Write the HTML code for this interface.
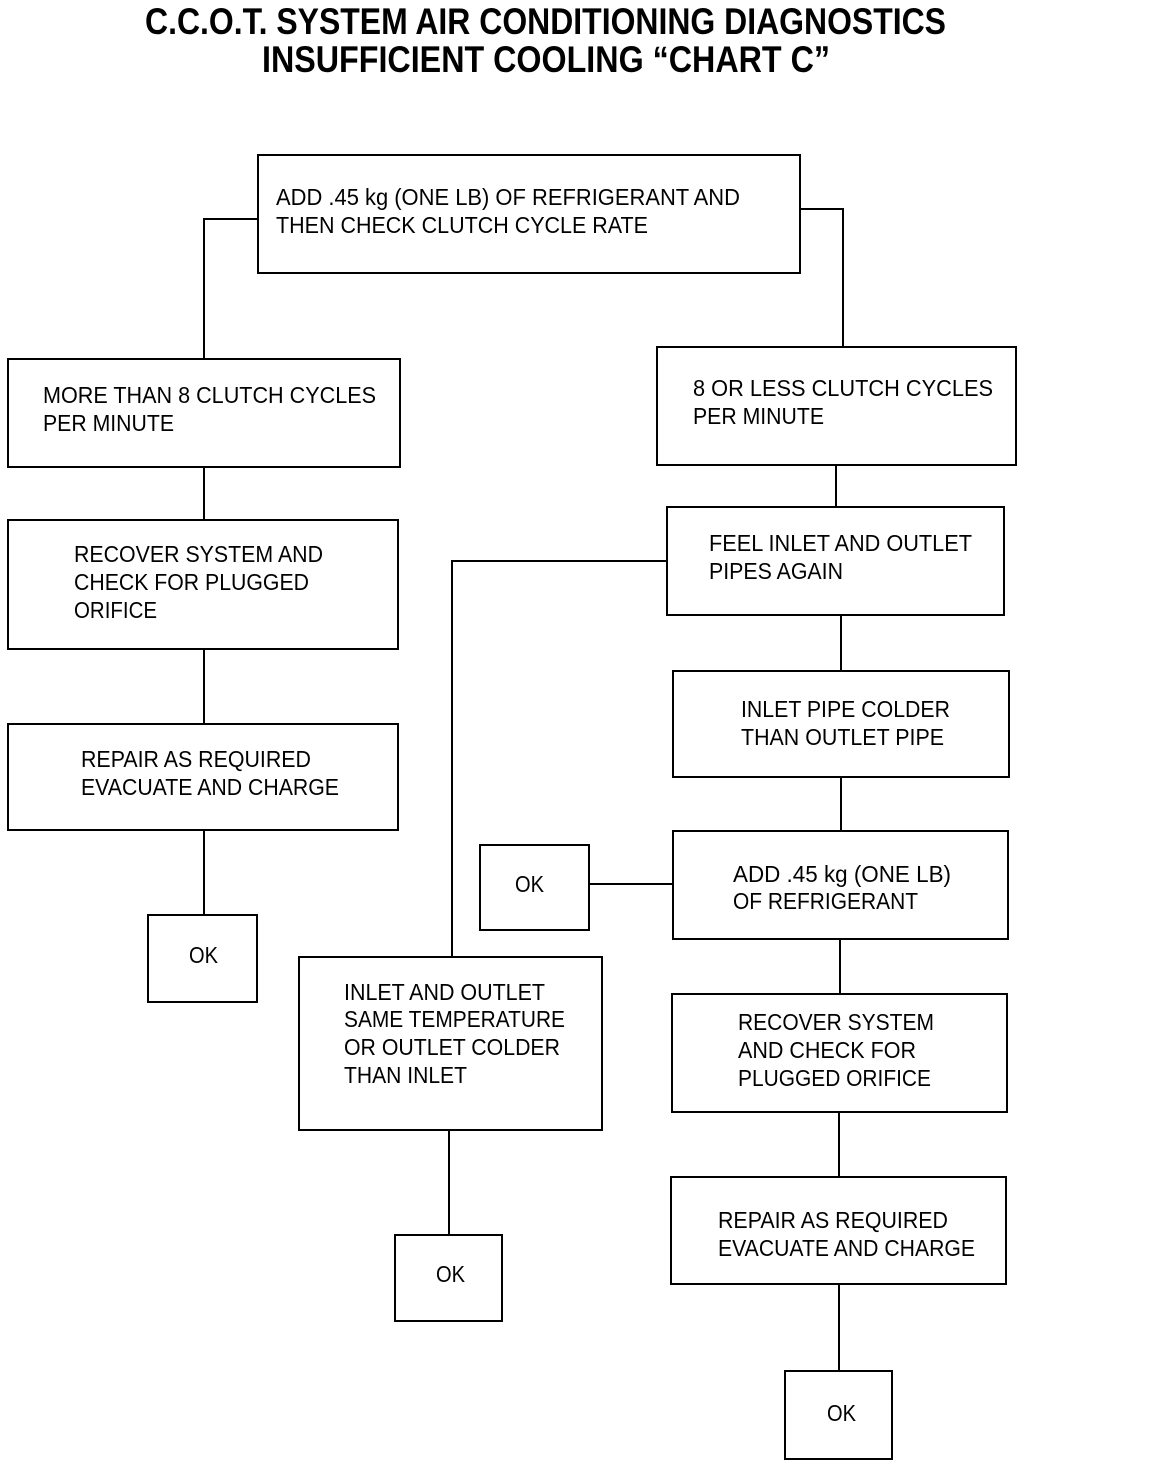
<!DOCTYPE html>
<html><head><meta charset="utf-8"><style>
html,body{margin:0;padding:0;background:#fff}
svg{display:block}
text{font-family:"Liberation Sans",Arial,sans-serif;fill:#000}
.t{font-size:23px}
.h{font-size:37px;font-weight:bold}
</style></head><body>
<svg width="1152" height="1466" viewBox="0 0 1152 1466" xmlns="http://www.w3.org/2000/svg">
<text class="h" x="145" y="34" textLength="801" lengthAdjust="spacingAndGlyphs">C.C.O.T. SYSTEM AIR CONDITIONING DIAGNOSTICS</text>
<text class="h" x="262" y="72" textLength="568" lengthAdjust="spacingAndGlyphs">INSUFFICIENT COOLING “CHART C”</text>
<g fill="none" stroke="#000" stroke-width="2">
<rect x="258" y="155" width="542" height="118"/>
<rect x="8" y="359" width="392" height="108"/>
<rect x="657" y="347" width="359" height="118"/>
<rect x="8" y="520" width="390" height="129"/>
<rect x="8" y="724" width="390" height="106"/>
<rect x="148" y="915" width="109" height="87"/>
<rect x="667" y="507" width="337" height="108"/>
<rect x="673" y="671" width="336" height="106"/>
<rect x="673" y="831" width="335" height="108"/>
<rect x="480" y="845" width="109" height="85"/>
<rect x="299" y="957" width="303" height="173"/>
<rect x="672" y="994" width="335" height="118"/>
<rect x="671" y="1177" width="335" height="107"/>
<rect x="395" y="1235" width="107" height="86"/>
<rect x="785" y="1371" width="107" height="88"/>
<polyline points="258,219 204,219 204,359"/>
<polyline points="800,209 843,209 843,347"/>
<line x1="204" y1="467" x2="204" y2="520"/>
<line x1="204" y1="649" x2="204" y2="724"/>
<line x1="204" y1="830" x2="204" y2="915"/>
<line x1="836" y1="465" x2="836" y2="507"/>
<polyline points="667,561 452,561 452,957"/>
<line x1="841" y1="615" x2="841" y2="671"/>
<line x1="841" y1="777" x2="841" y2="831"/>
<line x1="589" y1="884" x2="673" y2="884"/>
<line x1="840" y1="939" x2="840" y2="994"/>
<line x1="839" y1="1112" x2="839" y2="1177"/>
<line x1="449" y1="1130" x2="449" y2="1235"/>
<line x1="839" y1="1284" x2="839" y2="1371"/>
</g>
<g class="t">
<text class="t" x="276" y="205" textLength="464" lengthAdjust="spacingAndGlyphs">ADD .45 kg (ONE LB) OF REFRIGERANT AND</text>
<text class="t" x="276" y="233" textLength="372" lengthAdjust="spacingAndGlyphs">THEN CHECK CLUTCH CYCLE RATE</text>
<text class="t" x="43" y="403" textLength="333" lengthAdjust="spacingAndGlyphs">MORE THAN 8 CLUTCH CYCLES</text>
<text class="t" x="43" y="431" textLength="131" lengthAdjust="spacingAndGlyphs">PER MINUTE</text>
<text class="t" x="693" y="396" textLength="300" lengthAdjust="spacingAndGlyphs">8 OR LESS CLUTCH CYCLES</text>
<text class="t" x="693" y="424" textLength="131" lengthAdjust="spacingAndGlyphs">PER MINUTE</text>
<text class="t" x="74" y="562" textLength="249" lengthAdjust="spacingAndGlyphs">RECOVER SYSTEM AND</text>
<text class="t" x="74" y="590" textLength="235" lengthAdjust="spacingAndGlyphs">CHECK FOR PLUGGED</text>
<text class="t" x="74" y="618" textLength="83" lengthAdjust="spacingAndGlyphs">ORIFICE</text>
<text class="t" x="81" y="767" textLength="230" lengthAdjust="spacingAndGlyphs">REPAIR AS REQUIRED</text>
<text class="t" x="81" y="795" textLength="258" lengthAdjust="spacingAndGlyphs">EVACUATE AND CHARGE</text>
<text class="t" x="189" y="963" textLength="29" lengthAdjust="spacingAndGlyphs">OK</text>
<text class="t" x="709" y="551" textLength="263" lengthAdjust="spacingAndGlyphs">FEEL INLET AND OUTLET</text>
<text class="t" x="709" y="579" textLength="134" lengthAdjust="spacingAndGlyphs">PIPES AGAIN</text>
<text class="t" x="741" y="717" textLength="209" lengthAdjust="spacingAndGlyphs">INLET PIPE COLDER</text>
<text class="t" x="741" y="745" textLength="203" lengthAdjust="spacingAndGlyphs">THAN OUTLET PIPE</text>
<text class="t" x="733" y="882" textLength="218" lengthAdjust="spacingAndGlyphs">ADD .45 kg (ONE LB)</text>
<text class="t" x="733" y="909" textLength="185" lengthAdjust="spacingAndGlyphs">OF REFRIGERANT</text>
<text class="t" x="515" y="892" textLength="29" lengthAdjust="spacingAndGlyphs">OK</text>
<text class="t" x="344" y="1000" textLength="201" lengthAdjust="spacingAndGlyphs">INLET AND OUTLET</text>
<text class="t" x="344" y="1027" textLength="221" lengthAdjust="spacingAndGlyphs">SAME TEMPERATURE</text>
<text class="t" x="344" y="1055" textLength="216" lengthAdjust="spacingAndGlyphs">OR OUTLET COLDER</text>
<text class="t" x="344" y="1083" textLength="123" lengthAdjust="spacingAndGlyphs">THAN INLET</text>
<text class="t" x="738" y="1030" textLength="196" lengthAdjust="spacingAndGlyphs">RECOVER SYSTEM</text>
<text class="t" x="738" y="1058" textLength="178" lengthAdjust="spacingAndGlyphs">AND CHECK FOR</text>
<text class="t" x="738" y="1086" textLength="193" lengthAdjust="spacingAndGlyphs">PLUGGED ORIFICE</text>
<text class="t" x="718" y="1228" textLength="230" lengthAdjust="spacingAndGlyphs">REPAIR AS REQUIRED</text>
<text class="t" x="718" y="1256" textLength="257" lengthAdjust="spacingAndGlyphs">EVACUATE AND CHARGE</text>
<text class="t" x="436" y="1282" textLength="29" lengthAdjust="spacingAndGlyphs">OK</text>
<text class="t" x="827" y="1421" textLength="29" lengthAdjust="spacingAndGlyphs">OK</text>
</g>
</svg>
</body></html>
